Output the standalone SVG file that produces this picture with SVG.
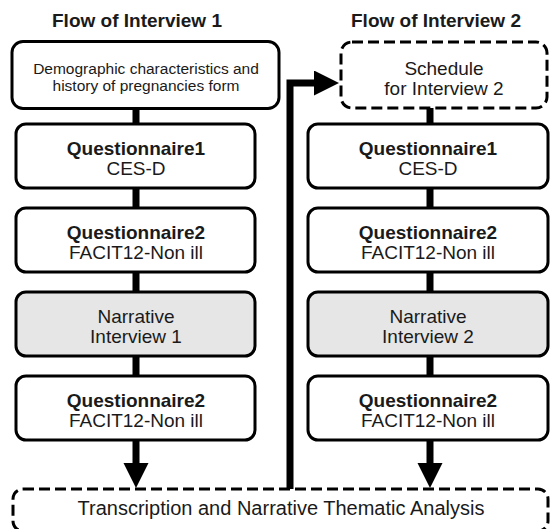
<svg xmlns="http://www.w3.org/2000/svg" width="552" height="529" viewBox="0 0 552 529">
<style>
.box{fill:#fff;stroke:#000;stroke-width:3}
.gray{fill:#e6e6e6}
.dash{fill:#fff;stroke:#000;stroke-width:3;stroke-dasharray:11 5}
text{font-family:"Liberation Sans",Arial,sans-serif;fill:#1a1a1a;text-anchor:middle;font-size:19px}
.b{font-weight:bold}
.s{font-size:15.5px}
.conn{stroke:#000;stroke-width:7;fill:none;stroke-linejoin:miter}
</style>
<defs>
<marker id="ah" markerUnits="userSpaceOnUse" markerWidth="26" markerHeight="26" refX="0" refY="12.5" orient="auto">
<path d="M0,0 L25,12.5 L0,25 Z" fill="#000"/>
</marker>
</defs>
<rect width="552" height="529" fill="#fff"/>
<g id="titles">
<text class="b" x="137" y="27">Flow of Interview 1</text>
<text class="b" x="436" y="27">Flow of Interview 2</text>
</g>
<g id="connectors">
<path class="conn" d="M136,109 V124 M136,188 V208 M136,272 V292 M136,356 V376"/>
<path class="conn" d="M136,440 V463" marker-end="url(#ah)"/>
<path class="conn" d="M430,108 V124 M430,188 V208 M430,272 V292 M430,356 V376"/>
<path class="conn" d="M430,440 V463" marker-end="url(#ah)"/>
<path class="conn" d="M290,489 V83 H314" marker-end="url(#ah)"/>
</g>
<g id="demographic">
<rect class="box" x="12" y="41.5" width="267" height="67" rx="11"/>
<text class="s" x="146" y="74">Demographic characteristics and</text>
<text class="s" x="146" y="91">history of pregnancies form</text>
</g>
<g id="q1-left">
<rect class="box" x="16" y="124" width="239" height="64" rx="10"/>
<text class="b" x="136" y="155">Questionnaire1</text>
<text x="136" y="175">CES-D</text>
</g>
<g id="q2-left">
<rect class="box" x="16" y="208" width="239" height="64" rx="10"/>
<text class="b" x="136" y="239">Questionnaire2</text>
<text x="136" y="259">FACIT12-Non ill</text>
</g>
<g id="narrative-1">
<rect class="box gray" x="16" y="292" width="239" height="64" rx="10"/>
<text x="136" y="323">Narrative</text>
<text x="136" y="343">Interview 1</text>
</g>
<g id="q2b-left">
<rect class="box" x="16" y="376" width="239" height="64" rx="10"/>
<text class="b" x="136" y="407">Questionnaire2</text>
<text x="136" y="427">FACIT12-Non ill</text>
</g>
<g id="schedule">
<rect class="dash" x="341" y="42" width="206" height="66" rx="11"/>
<text x="444" y="75">Schedule</text>
<text x="444" y="95">for Interview 2</text>
</g>
<g id="q1-right">
<rect class="box" x="308" y="124" width="240" height="64" rx="10"/>
<text class="b" x="428" y="155">Questionnaire1</text>
<text x="428" y="175">CES-D</text>
</g>
<g id="q2-right">
<rect class="box" x="308" y="208" width="240" height="64" rx="10"/>
<text class="b" x="428" y="239">Questionnaire2</text>
<text x="428" y="259">FACIT12-Non ill</text>
</g>
<g id="narrative-2">
<rect class="box gray" x="308" y="292" width="240" height="64" rx="10"/>
<text x="428" y="323">Narrative</text>
<text x="428" y="343">Interview 2</text>
</g>
<g id="q2b-right">
<rect class="box" x="308" y="376" width="240" height="64" rx="10"/>
<text class="b" x="428" y="407">Questionnaire2</text>
<text x="428" y="427">FACIT12-Non ill</text>
</g>
<g id="analysis">
<rect class="dash" x="13" y="489" width="535" height="42" rx="10" stroke-dasharray="12 5"/>
<text x="281" y="515" style="font-size:20px">Transcription and Narrative Thematic Analysis</text>
</g>
</svg>
